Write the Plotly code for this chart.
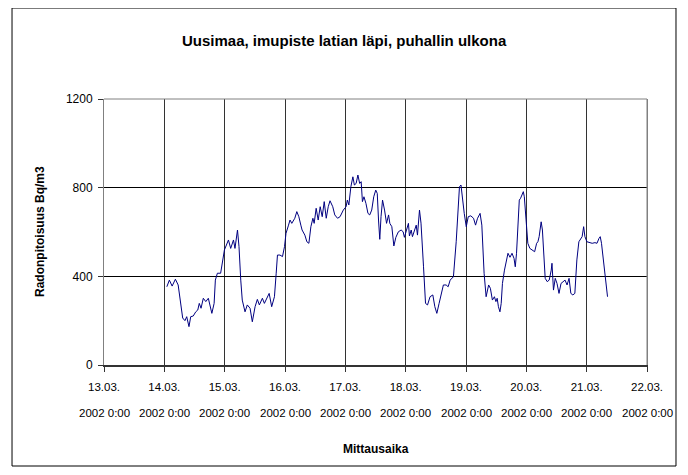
"""
Radon-mittaus: Uusimaa, imupiste latian läpi, puhallin ulkona
Aikasarja Plotly-kaaviona (Excel-tyylinen ulkoasu)
"""

from datetime import datetime, timedelta

import plotly.graph_objects as go

# ── Data ───────────────────────────────────────────────────
START = datetime(2002, 3, 13)

# tunteja alusta (13.03.2002 0:00)
hours = [
    25.0, 26.0, 27.1, 28.4, 29.5, 30.5, 31.3, 32.2, 32.9, 33.8, 34.5, 35.5, 36.5, 37.3,
    37.9, 38.6, 39.5, 40.5, 41.5, 42.9, 43.8, 44.3, 45.1, 46.4, 47.1, 47.9, 49.5, 50.4,
    51.5, 52.1, 53.1, 53.7, 54.4, 55.0, 56.1, 57.0, 58.1, 59.0, 60.1, 61.0, 61.8, 63.0,
    63.8, 64.8, 65.7, 66.7, 67.8, 68.5, 69.0, 70.0, 71.0, 71.8, 72.4, 73.4, 74.0, 74.7,
    75.9, 76.7, 77.5, 78.3, 78.8, 79.9, 80.7, 81.5, 82.3, 83.1, 83.6, 84.4, 85.2, 86.0,
    86.8, 87.6, 88.4, 89.2, 89.9, 91.0, 91.8, 92.9, 93.9, 95.2, 96.3, 96.8, 97.4, 98.2,
    99.0, 99.6, 100.3, 101.0, 101.7, 102.3, 102.8, 103.4, 104.2, 105.0, 105.7, 106.5,
    107.3, 108.1, 108.7, 109.2, 109.7, 110.2, 110.8, 111.6, 112.4, 113.2, 113.7, 114.5,
    115.3, 116.1, 117.1, 118.2, 119.0, 119.5, 120.3, 121.1, 121.5, 122.2, 122.7, 123.5,
    124.2, 124.7, 125.5, 126.1, 126.7, 127.1, 127.9, 128.7, 129.7, 130.8, 131.6, 132.4,
    133.3, 134.1, 135.0, 136.1, 136.9, 137.7, 139.0, 140.1, 140.8, 141.4, 142.0, 142.5,
    143.3, 144.1, 144.9, 145.9, 147.0, 147.8, 148.6, 149.6, 150.3, 151.2, 152.0, 153.0,
    153.7, 154.5, 155.3, 155.9, 156.4, 156.9, 157.5, 158.0, 158.5, 159.3, 159.9, 160.7,
    161.5, 162.3, 163.1, 163.6, 164.1, 164.7, 165.2, 165.7, 166.2, 166.8, 167.2, 167.8,
    168.6, 169.4, 170.2, 171.3, 172.1, 172.6, 173.1, 173.9, 174.4, 175.0, 175.5, 176.3,
    177.1, 177.9, 178.2, 178.8, 179.5, 180.2, 181.0, 181.8, 182.6, 183.4, 184.2, 185.0,
    185.7, 186.5, 187.3, 188.1, 188.9, 189.7, 190.2, 190.8, 191.3, 192.1, 193.2, 194.2,
    195.3, 196.1, 196.9, 197.4, 197.9, 198.7, 199.5, 200.3,
]

# radonpitoisuus Bq/m3
radon = [
    353, 383, 356, 387, 361, 280, 212, 200, 218, 173, 218, 221, 240, 248,
    278, 256, 301, 286, 301, 233, 278, 383, 414, 414, 474, 519, 564, 526,
    564, 526, 609, 534, 383, 293, 240, 271, 256, 195, 263, 296, 271, 301,
    278, 301, 323, 263, 308, 414, 496, 496, 489, 534, 594, 631, 654, 639,
    662, 692, 669, 631, 609, 586, 556, 549, 624, 662, 639, 707, 654, 714,
    669, 737, 662, 714, 741, 714, 677, 662, 669, 699, 714, 744, 722, 804,
    849, 812, 819, 857, 819, 827, 737, 759, 729, 684, 677, 699,
    759, 789, 774, 654, 567, 669, 744, 699, 639, 677, 639, 624,
    537, 576, 601, 609, 601, 576, 606, 639, 582, 609, 579, 609,
    631, 586, 699, 640, 540, 443, 278, 271, 308, 316, 263, 233,
    278, 323, 361, 361, 353, 383, 398, 556, 699, 804, 812, 759,
    684, 624, 669, 673, 662, 631, 662, 684, 631, 414, 308, 361,
    346, 293, 308, 286, 301, 263, 240, 278, 368, 428, 466, 504,
    486, 504, 481, 443, 504, 639, 744, 752, 767, 782, 759, 654,
    549, 526, 519, 511, 549, 556, 579, 646, 609, 459, 391, 376,
    383, 428, 459, 338, 391, 368, 323, 368, 376, 383, 361, 391,
    323, 316, 323, 474, 556, 571, 579, 624, 579, 556, 552, 549,
    552, 549, 571, 579, 549, 459, 383, 308,
]

# akselin päivät 13.03. ... 22.03.
tick_days = list(range(10))
tick_line1 = [f"{13 + d}.03." for d in tick_days]
tick_line2 = ["2002 0:00"] * len(tick_days)

y_ticks = [0, 400, 800, 1200]

times = [START + timedelta(hours=h) for h in hours]
tick_dates = [START + timedelta(days=d) for d in tick_days]

FONT = "Arial, Liberation Sans, sans-serif"

# ── Kaavio ────────────────────────────────────────────────
fig = go.Figure()
fig.add_trace(
    go.Scatter(
        x=times,
        y=radon,
        mode="lines",
        line=dict(color="#000080", width=1),
        showlegend=False,
    )
)

# toinen tekstirivi (vuosi ja kellonaika) akselin alle
for d, txt in zip(tick_dates, tick_line2):
    fig.add_annotation(
        x=d, y=0, xref="x", yref="paper",
        text=txt, showarrow=False,
        yanchor="middle", yshift=-48,
        font=dict(family=FONT, size=11.5, color="black"),
    )

fig.add_annotation(
    x=0.442, y=1, xref="paper", yref="paper",
    text="<b>Uusimaa, imupiste latian läpi, puhallin ulkona</b>",
    showarrow=False, yanchor="middle", yshift=59,
    font=dict(family=FONT, size=15, color="black"),
)
fig.add_annotation(
    x=0.5, y=0, xref="paper", yref="paper",
    text="<b>Mittausaika</b>",
    showarrow=False, yanchor="middle", yshift=-84,
    font=dict(family=FONT, size=12, color="black"),
)
fig.add_annotation(
    x=0, y=0.5, xref="paper", yref="paper",
    text="<b>Radonpitoisuus Bq/m3</b>",
    showarrow=False, textangle=-90, xanchor="center", xshift=-64,
    font=dict(family=FONT, size=12, color="black"),
)

# ulkokehys
fig.add_shape(
    type="rect", xref="paper", yref="paper",
    x0=-0.1694, x1=1.0534, y0=-0.3797, y1=1.342,
    line=dict(color="black", width=1),
)

fig.update_xaxes(
    type="date",
    range=[tick_dates[0], tick_dates[-1]],
    tickvals=tick_dates,
    ticktext=tick_line1,
    ticks="outside", ticklen=5, tickcolor="#333",
    ticklabelstandoff=5,
    showgrid=True, gridcolor="#333", gridwidth=1,
    showline=True, linecolor="#333", linewidth=2,
    mirror=False, zeroline=False,
    tickfont=dict(family=FONT, size=11.5, color="black"),
)
fig.update_yaxes(
    range=[0, 1200],
    tickvals=y_ticks,
    ticks="outside", ticklen=5, tickcolor="#333",
    ticklabelstandoff=3,
    showgrid=True, gridcolor="black", gridwidth=1,
    showline=True, linecolor="#808080", linewidth=1,
    mirror=True, zeroline=False,
    tickfont=dict(family=FONT, size=12, color="black"),
)

fig.update_layout(
    width=672, height=459,
    margin=dict(l=96, r=33, t=91, b=102),
    paper_bgcolor="white", plot_bgcolor="white",
    showlegend=False,
)

# oikea ja yläreuna harmaalla
fig.add_shape(type="line", xref="paper", yref="paper", x0=1, x1=1, y0=0, y1=1,
              line=dict(color="#808080", width=1))
fig.add_shape(type="line", xref="paper", yref="paper", x0=0, x1=1, y0=1, y1=1,
              line=dict(color="#808080", width=1))

fig.write_html("out.html")
